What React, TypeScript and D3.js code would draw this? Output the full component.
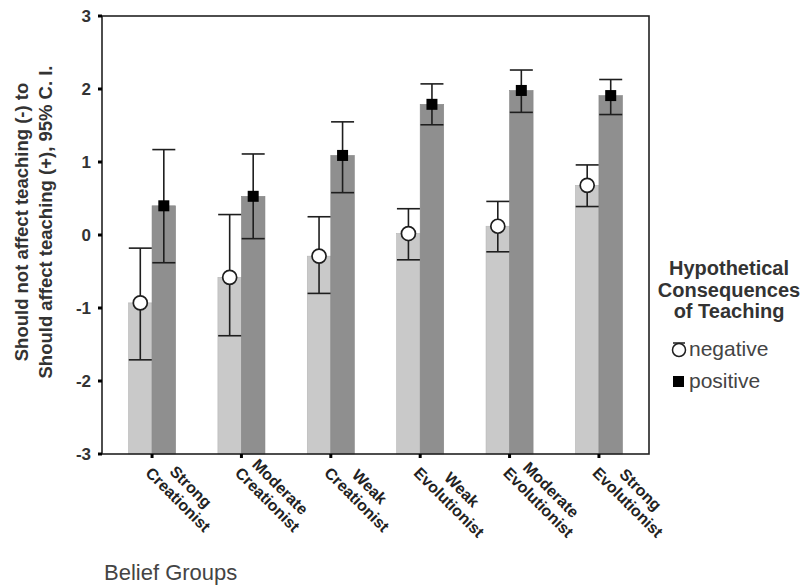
import React from "react";
import * as d3 from "d3";

const categories = [
  "Strong Creationist",
  "Moderate Creationist",
  "Weak Creationist",
  "Weak Evolutionist",
  "Moderate Evolutionist",
  "Strong Evolutionist",
];
const categoryLines = [
  ["Strong", "Creationist"],
  ["Moderate", "Creationist"],
  ["Weak", "Creationist"],
  ["Weak", "Evolutionist"],
  ["Moderate", "Evolutionist"],
  ["Strong", "Evolutionist"],
];
const series = ["negative", "positive"];
const negMean = [-0.93, -0.58, -0.29, 0.02, 0.12, 0.68];
const negLow = [-1.71, -1.38, -0.8, -0.34, -0.23, 0.39];
const negHigh = [-0.18, 0.28, 0.25, 0.36, 0.46, 0.96];
const posMean = [0.4, 0.53, 1.09, 1.79, 1.98, 1.91];
const posLow = [-0.38, -0.05, 0.58, 1.51, 1.68, 1.65];
const posHigh = [1.17, 1.11, 1.55, 2.07, 2.26, 2.13];
const yTicks = [3, 2, 1, 0, -1, -2, -3];
const yTitleLines = ["Should not affect teaching (-) to", "Should affect teaching (+), 95% C. I."];
const legendTitle = ["Hypothetical", "Consequences", "of Teaching"];
const xTitle = "Belief Groups";

const FONT = "'Liberation Sans', Arial, Helvetica, sans-serif";

let ctx: CanvasRenderingContext2D | null = null;
function measure(text: string, font: string) {
  if (!ctx) ctx = document.createElement("canvas").getContext("2d");
  if (!ctx) return text.length * 9;
  ctx.font = font;
  return ctx.measureText(text).width;
}

export default function App() {
  const W = 811, H = 586;
  const left = 102, right = 649, top = 16, bottom = 454;
  const x = d3.scaleBand<string>().domain(categories).range([left, right]).paddingInner(0).paddingOuter(0.06);
  const x1 = d3.scaleBand<string>().domain(series).range([0, x.bandwidth()]).paddingInner(0).paddingOuter(0.9);
  const y = d3.scaleLinear().domain([-3, 3]).range([bottom, top]);

  const data = categories.map((c, i) => ({
    c,
    vals: [
      { s: "negative", m: negMean[i], lo: negLow[i], hi: negHigh[i] },
      { s: "positive", m: posMean[i], lo: posLow[i], hi: posHigh[i] },
    ],
  }));

  const fill: Record<string, string> = { negative: "#c9c9c9", positive: "#8f8f8f" };
  const xLabelFont = `bold 16px ${FONT}`;
  const capW = 23;

  return (
    <svg width={W} height={H} style={{ position: "absolute", left: 0, top: 0, background: "#fff" }}>
      <rect x={0} y={0} width={W} height={H} fill="#fff" />
      {/* bars */}
      {data.map((d) => (
        <g key={d.c} transform={`translate(${x(d.c)},0)`}>
          {d.vals.map((v) => (
            <rect
              key={v.s}
              x={x1(v.s)}
              y={y(v.m)}
              width={x1.bandwidth()}
              height={y(-3) - y(v.m)}
              fill={fill[v.s]}
              stroke={v.s === "negative" ? "#b5b5b5" : "#858585"}
              strokeWidth={0.6}
            />
          ))}
        </g>
      ))}
      {/* error bars + markers */}
      {data.map((d) => (
        <g key={d.c + "e"} transform={`translate(${x(d.c)},0)`}>
          {d.vals.map((v) => {
            const cx = (x1(v.s) as number) + x1.bandwidth() / 2;
            return (
              <g key={v.s}>
                <line x1={cx} x2={cx} y1={y(v.lo)} y2={y(v.hi)} stroke="#1e1e1e" strokeWidth={1.6} />
                <line x1={cx - capW / 2} x2={cx + capW / 2} y1={y(v.hi)} y2={y(v.hi)} stroke="#1e1e1e" strokeWidth={1.6} />
                <line x1={cx - capW / 2} x2={cx + capW / 2} y1={y(v.lo)} y2={y(v.lo)} stroke="#1e1e1e" strokeWidth={1.6} />
                {v.s === "negative" ? (
                  <circle cx={cx} cy={y(v.m)} r={7} fill="#fff" stroke="#1e1e1e" strokeWidth={1.7} />
                ) : (
                  <rect x={cx - 5.5} y={y(v.m) - 5.5} width={11} height={11} fill="#000" />
                )}
              </g>
            );
          })}
        </g>
      ))}
      {/* frame */}
      <rect x={left} y={top} width={right - left} height={bottom - top} fill="none" stroke="#222" strokeWidth={1.6} />
      {/* y ticks */}
      {yTicks.map((t) => (
        <g key={t}>
          <line x1={98} x2={left} y1={y(t)} y2={y(t)} stroke="#000" strokeWidth={3} />
          <text x={91} y={y(t)} dy="0.36em" textAnchor="end" fontFamily={FONT} fontWeight="bold" fontSize={17} fill="#333">
            {t}
          </text>
        </g>
      ))}
      {/* x ticks and labels */}
      {categories.map((c, i) => {
        const cx = (x(c) as number) + x.bandwidth() / 2;
        const lines = categoryLines[i];
        const wMax = Math.max(...lines.map((l) => measure(l, xLabelFont)));
        return (
          <g key={c}>
            <line x1={cx} x2={cx} y1={bottom} y2={bottom + 4} stroke="#000" strokeWidth={3} />
            <g transform={`translate(${cx},${bottom + 4}) rotate(45)`}>
              {lines.map((l, j) => (
                <text
                  key={j}
                  x={6 + wMax / 2}
                  y={j === 0 ? -1.5 : 16.5}
                  textAnchor="middle"
                  fontFamily={FONT}
                  fontWeight="bold"
                  fontSize={16}
                  fill="#222"
                >
                  {l}
                </text>
              ))}
            </g>
          </g>
        );
      })}
      {/* y title */}
      {yTitleLines.map((l, j) => (
        <text
          key={j}
          transform={`translate(${j === 0 ? 28 : 52},222) rotate(-90)`}
          textAnchor="middle"
          fontFamily={FONT}
          fontWeight="bold"
          fontSize={18.5}
          fill="#333"
        >
          {l}
        </text>
      ))}
      {/* x title */}
      <text x={104} y={580} fontFamily={FONT} fontSize={22} fill="#444">
        {xTitle}
      </text>
      {/* legend */}
      {legendTitle.map((l, j) => (
        <text key={j} x={729} y={275 + j * 21.5} textAnchor="middle" fontFamily={FONT} fontWeight="bold" fontSize={20} fill="#333">
          {l}
        </text>
      ))}
      <line x1={673} x2={685} y1={343} y2={343} stroke="#1e1e1e" strokeWidth={1.5} />
      <circle cx={679} cy={350} r={6.5} fill="#fff" stroke="#1e1e1e" strokeWidth={1.5} />
      <text x={689} y={356} fontFamily={FONT} fontSize={21} fill="#444">
        {series[0]}
      </text>
      <rect x={673} y={376} width={11} height={11} fill="#000" />
      <text x={689} y={388} fontFamily={FONT} fontSize={21} fill="#444">
        {series[1]}
      </text>
    </svg>
  );
}
